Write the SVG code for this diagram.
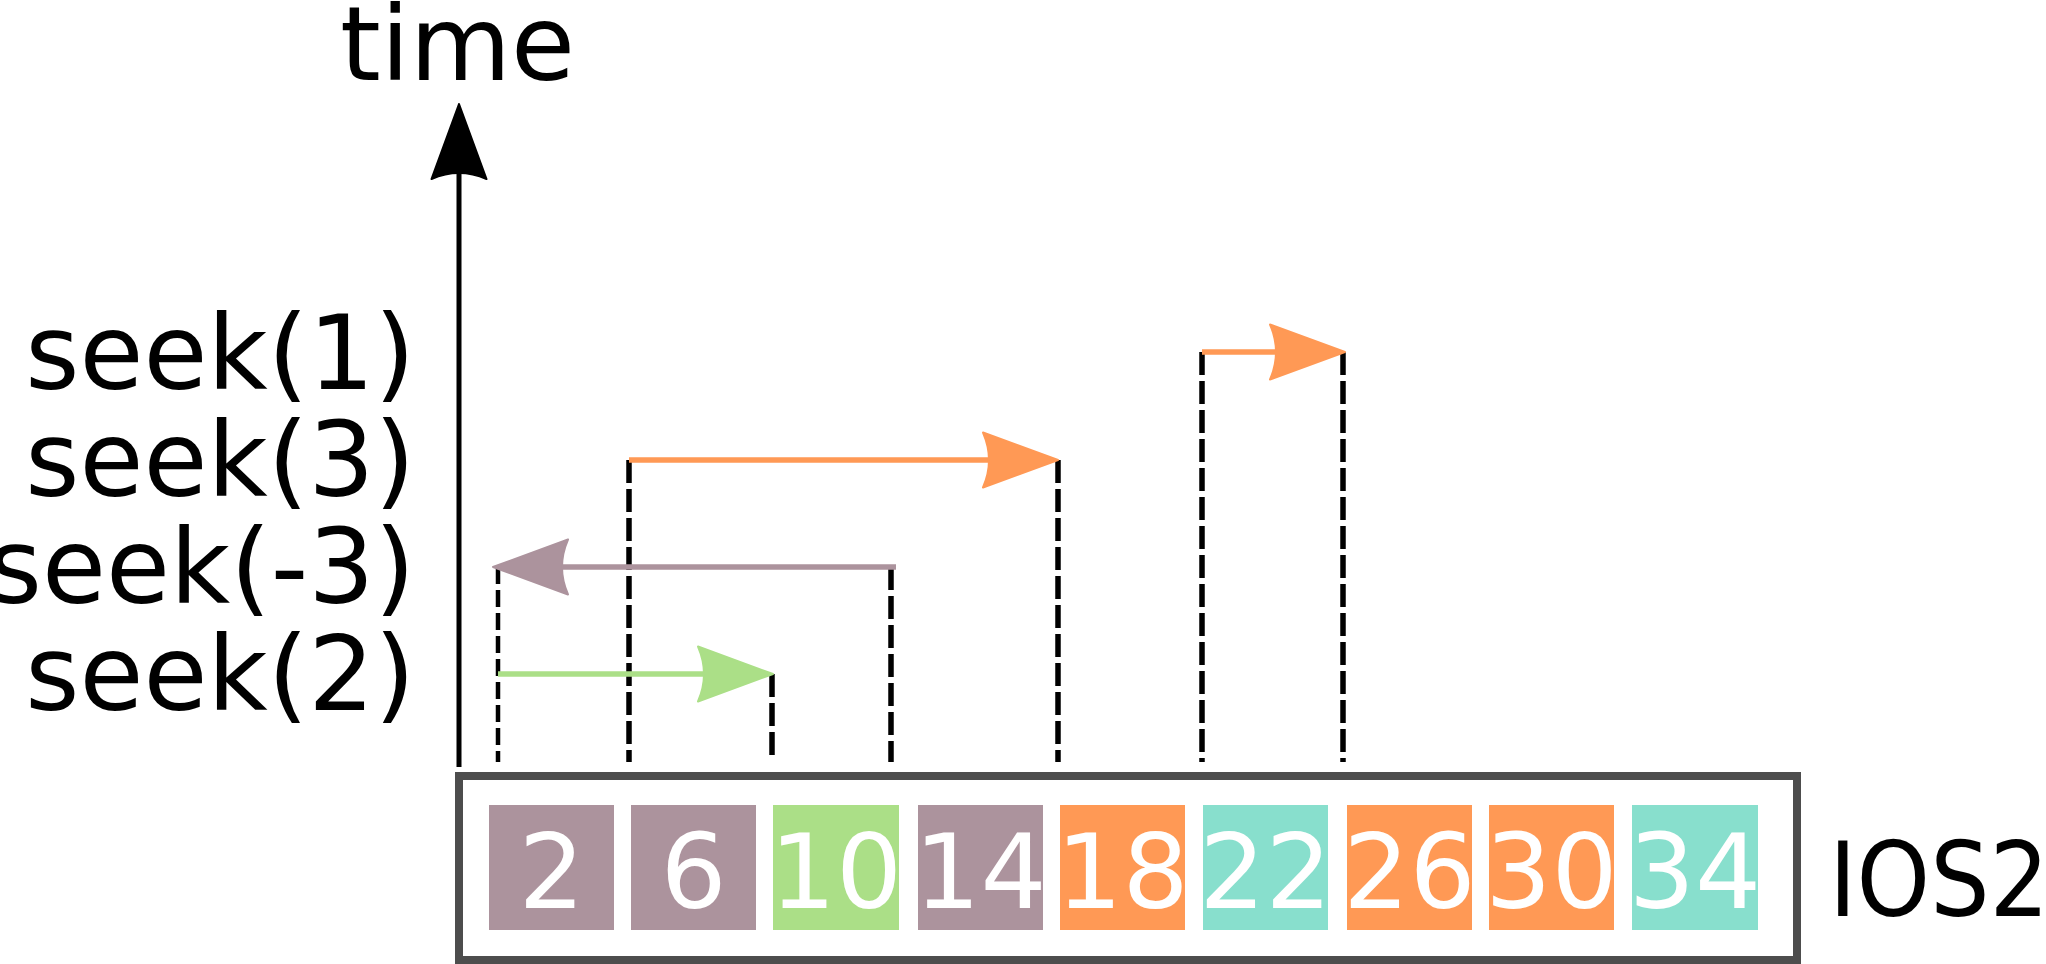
<svg xmlns="http://www.w3.org/2000/svg" width="2046" height="964" viewBox="0 0 2046 964">
<style>
text{font-family:"DejaVu Sans","Liberation Sans",sans-serif;font-size:104px}
.lbl{fill:#000}
.num{fill:#fff;text-anchor:middle}
.seek{text-anchor:end}
.dash{stroke:#000;stroke-width:5.5;fill:none;stroke-dasharray:23 6}
.dash2{stroke:#000;stroke-width:4.5;fill:none;stroke-dasharray:17 6}
.pink{fill:#ac939d}
.green{fill:#abdf87}
.orange{fill:#ff9955}
.teal{fill:#88dfcd}
</style>
<defs>
<path id="ah" d="M0,0 L-75,-27.5 Q-63,0 -75,27.5 Z" stroke-linejoin="round" stroke-width="2"/>
</defs>
<rect width="2046" height="964" fill="#fff"/>
<g id="labels">
<text x="340" y="80" class="lbl">time</text>
<text x="415" y="389" class="lbl seek">seek(1)</text>
<text x="415" y="496" class="lbl seek">seek(3)</text>
<text x="415" y="603" class="lbl seek">seek(-3)</text>
<text x="415" y="710" class="lbl seek">seek(2)</text>
<text x="1829" y="916" class="lbl" textLength="220" lengthAdjust="spacingAndGlyphs">IOS2</text>
</g>
<g id="connectors">
<line x1="459" y1="168" x2="459" y2="767" stroke="#000" stroke-width="5"/>
<use href="#ah" transform="translate(459,104) rotate(-90)" fill="#000" stroke="#000"/>
<line class="dash2" x1="498" y1="567" x2="498" y2="762"/>
<line class="dash" x1="629" y1="460" x2="629" y2="762"/>
<line class="dash" x1="772" y1="674" x2="772" y2="757"/>
<line class="dash" x1="891" y1="567" x2="891" y2="762"/>
<line class="dash" x1="1058" y1="460" x2="1058" y2="762"/>
<line class="dash" x1="1202" y1="352" x2="1202" y2="762"/>
<line class="dash" x1="1343" y1="352" x2="1343" y2="762"/>
<line x1="498" y1="674" x2="710" y2="674" stroke="#abdf87" stroke-width="5.5"/>
<use href="#ah" transform="translate(773,674)" fill="#abdf87" stroke="#abdf87"/>
<line x1="896" y1="567" x2="555" y2="567" stroke="#ac939d" stroke-width="5.5"/>
<use href="#ah" transform="translate(493,567) rotate(180)" fill="#ac939d" stroke="#ac939d"/>
<line x1="629" y1="460" x2="995" y2="460" stroke="#ff9955" stroke-width="5.5"/>
<use href="#ah" transform="translate(1058,460)" fill="#ff9955" stroke="#ff9955"/>
<line x1="1202" y1="352" x2="1285" y2="352" stroke="#ff9955" stroke-width="5.5"/>
<use href="#ah" transform="translate(1345,352)" fill="#ff9955" stroke="#ff9955"/>
</g>
<g id="ios2">
<rect x="459" y="776" width="1338" height="184" fill="#fff" stroke="#4d4d4d" stroke-width="8"/>
</g>
<g id="c2"><rect x="489" y="805" width="125" height="125" class="pink"/><text x="551.5" y="908" class="num">2</text></g>
<g id="c6"><rect x="631" y="805" width="125" height="125" class="pink"/><text x="693.5" y="908" class="num">6</text></g>
<g id="c10"><rect x="773" y="805" width="126" height="125" class="green"/><text x="836" y="908" class="num">10</text></g>
<g id="c14"><rect x="918" y="805" width="125" height="125" class="pink"/><text x="980.5" y="908" class="num">14</text></g>
<g id="c18"><rect x="1060" y="805" width="125" height="125" class="orange"/><text x="1122.5" y="908" class="num">18</text></g>
<g id="c22"><rect x="1203" y="805" width="125" height="125" class="teal"/><text x="1265.5" y="908" class="num">22</text></g>
<g id="c26"><rect x="1347" y="805" width="125" height="125" class="orange"/><text x="1409.5" y="908" class="num">26</text></g>
<g id="c30"><rect x="1489" y="805" width="125" height="125" class="orange"/><text x="1551.5" y="908" class="num">30</text></g>
<g id="c34"><rect x="1632" y="805" width="126" height="125" class="teal"/><text x="1695" y="908" class="num">34</text></g>
</svg>
